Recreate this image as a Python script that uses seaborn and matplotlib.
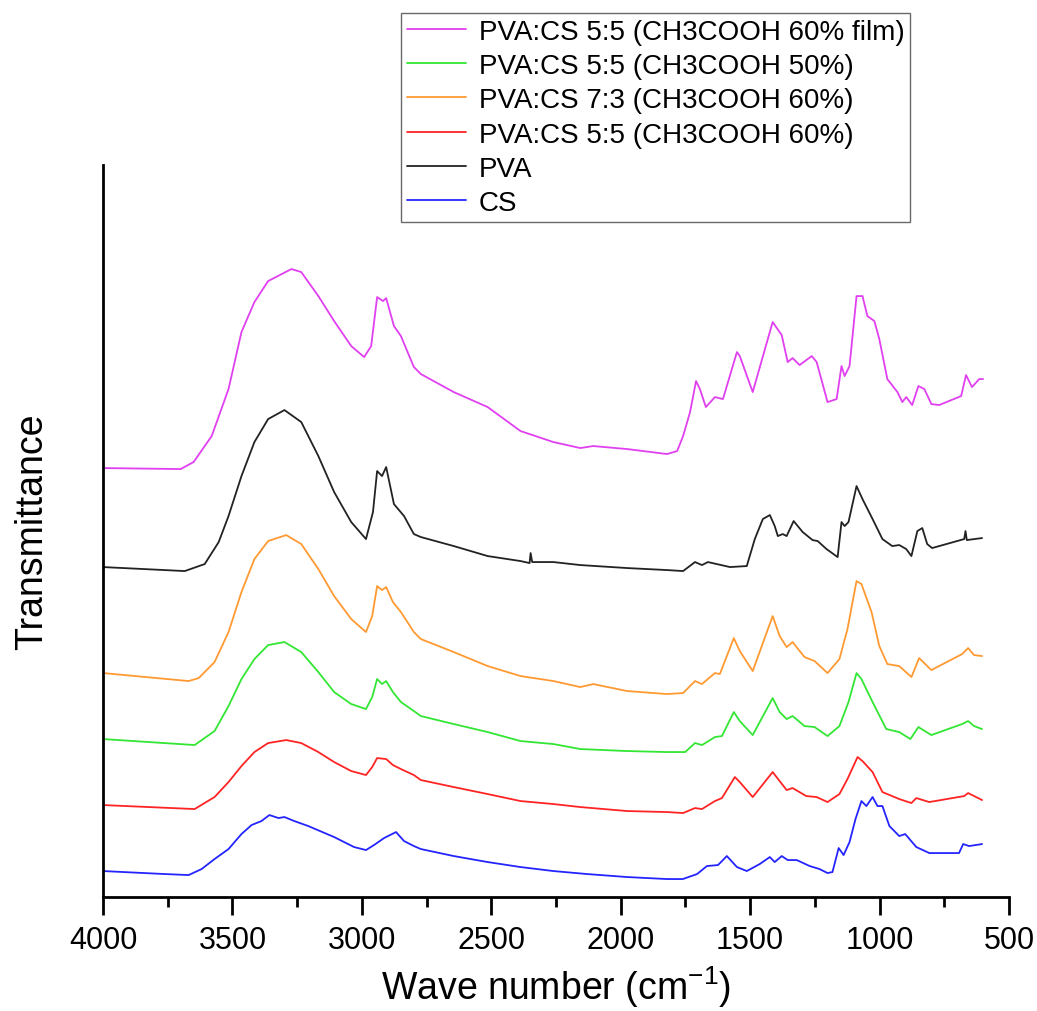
import matplotlib
matplotlib.use("Agg")
import matplotlib.pyplot as plt
import numpy as np
import pandas as pd
import seaborn as sns
from matplotlib.ticker import MultipleLocator

# --------------------------------------------------------------------------- #
#   FTIR spectra (wave number, transmittance in arbitrary offset units)        #
# --------------------------------------------------------------------------- #
SAMPLE_NAMES = [
    "PVA:CS 5:5 (CH3COOH 60% film)",
    "PVA:CS 5:5 (CH3COOH 50%)",
    "PVA:CS 7:3 (CH3COOH 60%)",
    "PVA:CS 5:5 (CH3COOH 60%)",
    "PVA",
    "CS",
]
COLORS = ["#E040F0", "#33E633", "#FF9A33", "#FF2424", "#222222", "#2424FF"]

FILM_55_60 = [
    (4000, 429), (3700, 428), (3650, 435), (3580, 461), (3515, 508), (3465, 565),
    (3415, 595), (3362, 616), (3272, 628), (3234, 625), (3168, 601), (3107, 576),
    (3041, 551), (2991, 540), (2964, 551), (2941, 600), (2918, 596), (2906, 599),
    (2876, 571), (2849, 561), (2799, 530), (2772, 523), (2645, 505), (2514, 490),
    (2387, 466), (2260, 455), (2156, 449), (2106, 451), (1975, 448), (1821, 443),
    (1782, 446), (1759, 461), (1732, 485), (1709, 516), (1694, 508), (1671, 490),
    (1636, 500), (1605, 498), (1551, 545), (1540, 541), (1490, 505), (1413, 575),
    (1378, 562), (1355, 535), (1336, 539), (1309, 532), (1262, 541), (1243, 535),
    (1201, 495), (1166, 498), (1147, 531), (1135, 521), (1116, 531), (1089, 601),
    (1066, 601), (1047, 581), (1020, 576), (1001, 558), (970, 518), (931, 505),
    (912, 495), (897, 500), (874, 492), (850, 511), (827, 508), (800, 493),
    (770, 492), (685, 501), (666, 522), (643, 510), (615, 518), (600, 518),
]
PVA_CS_55_50 = [
    (4000, 158), (3646, 152), (3569, 166), (3515, 191), (3465, 218), (3415, 238),
    (3362, 252), (3299, 255), (3234, 245), (3168, 225), (3107, 205), (3041, 193),
    (2984, 188), (2960, 200), (2941, 218), (2922, 213), (2906, 216), (2880, 205),
    (2849, 195), (2799, 186), (2772, 181), (2645, 173), (2514, 165), (2387, 156),
    (2260, 153), (2156, 148), (1975, 146), (1821, 145), (1751, 145), (1713, 154),
    (1686, 152), (1636, 160), (1609, 161), (1563, 185), (1540, 176), (1490, 162),
    (1413, 199), (1386, 185), (1359, 178), (1336, 181), (1290, 171), (1251, 170),
    (1201, 161), (1155, 171), (1120, 195), (1089, 224), (1070, 218), (1027, 195),
    (974, 168), (924, 165), (881, 158), (850, 170), (800, 162), (681, 173),
    (658, 176), (635, 171), (604, 168),
]
PVA_CS_73_60 = [
    (4000, 224), (3669, 216), (3630, 219), (3569, 235), (3515, 265), (3465, 305),
    (3415, 338), (3362, 356), (3292, 362), (3234, 353), (3168, 328), (3107, 301),
    (3041, 278), (2984, 265), (2960, 281), (2941, 311), (2922, 307), (2906, 310),
    (2880, 295), (2849, 285), (2799, 265), (2772, 258), (2645, 245), (2514, 231),
    (2387, 221), (2260, 216), (2156, 210), (2106, 213), (1975, 206), (1821, 203),
    (1759, 204), (1713, 216), (1686, 213), (1636, 224), (1617, 223), (1563, 259),
    (1540, 246), (1490, 226), (1413, 281), (1386, 261), (1359, 250), (1336, 255),
    (1290, 240), (1251, 236), (1201, 224), (1155, 238), (1124, 268), (1089, 316),
    (1070, 313), (1031, 285), (1001, 251), (970, 233), (924, 231), (877, 220),
    (847, 239), (800, 227), (681, 243), (658, 249), (635, 242), (604, 241),
]
PVA_CS_55_60 = [
    (4000, 92), (3646, 88), (3569, 100), (3515, 115), (3465, 131), (3415, 145),
    (3362, 154), (3292, 157), (3234, 154), (3168, 145), (3107, 135), (3041, 126),
    (2984, 122), (2960, 130), (2941, 139), (2906, 138), (2880, 132), (2849, 128),
    (2799, 122), (2772, 117), (2645, 110), (2514, 103), (2387, 96), (2260, 93),
    (2156, 90), (1975, 86), (1821, 85), (1759, 84), (1713, 89), (1686, 88),
    (1636, 96), (1609, 99), (1559, 120), (1540, 115), (1490, 100), (1413, 125),
    (1386, 116), (1359, 107), (1336, 109), (1283, 101), (1243, 100), (1201, 95),
    (1155, 103), (1124, 118), (1085, 140), (1066, 136), (1027, 125), (989, 105),
    (924, 98), (877, 94), (858, 99), (808, 95), (673, 101), (658, 104), (604, 97),
]
PVA = [
    (4000, 330), (3684, 326), (3607, 333), (3553, 355), (3515, 381), (3465, 421),
    (3415, 455), (3362, 478), (3299, 487), (3234, 475), (3168, 441), (3107, 405),
    (3041, 375), (2984, 358), (2957, 385), (2941, 426), (2922, 421), (2906, 430),
    (2876, 393), (2837, 381), (2799, 363), (2772, 360), (2645, 351), (2514, 341),
    (2387, 336), (2352, 334), (2348, 344), (2342, 335), (2260, 335), (2156, 332),
    (1975, 329), (1821, 327), (1759, 326), (1713, 335), (1686, 332), (1663, 335),
    (1578, 330), (1513, 331), (1482, 358), (1451, 378), (1424, 382), (1405, 371),
    (1393, 361), (1374, 363), (1359, 361), (1332, 376), (1297, 365), (1259, 357),
    (1239, 356), (1205, 348), (1162, 340), (1147, 375), (1135, 371), (1120, 375),
    (1089, 411), (1066, 398), (1027, 378), (989, 358), (951, 351), (924, 352),
    (897, 348), (877, 341), (854, 366), (835, 369), (816, 353), (797, 349),
    (673, 358), (668, 366), (663, 357), (604, 359),
]
CS = [
    (4000, 26), (3761, 23), (3669, 22), (3619, 28), (3569, 38), (3515, 48),
    (3465, 63), (3426, 72), (3388, 76), (3357, 82), (3322, 79), (3299, 80),
    (3261, 76), (3207, 71), (3107, 60), (3030, 50), (2984, 47), (2953, 52),
    (2914, 59), (2868, 65), (2837, 56), (2799, 51), (2772, 48), (2645, 41),
    (2514, 35), (2387, 30), (2260, 26), (2130, 23), (1975, 20), (1821, 18),
    (1760, 18), (1705, 23), (1667, 31), (1624, 32), (1590, 41), (1551, 30),
    (1513, 26), (1463, 33), (1424, 40), (1405, 35), (1378, 41), (1355, 37),
    (1320, 37), (1270, 31), (1232, 28), (1201, 24), (1182, 25), (1158, 49),
    (1139, 42), (1116, 55), (1093, 78), (1070, 96), (1051, 91), (1027, 100),
    (1008, 91), (989, 91), (962, 71), (924, 61), (901, 63), (858, 50),
    (808, 44), (693, 44), (677, 53), (654, 51), (604, 53),
]
SPECTRA = [FILM_55_60, PVA_CS_55_50, PVA_CS_73_60, PVA_CS_55_60, PVA, CS]

# --------------------------------------------------------------------------- #
#                               PLOT                                           #
# --------------------------------------------------------------------------- #
rows = []
for name, spec in zip(SAMPLE_NAMES, SPECTRA):
    for wn, t in spec:
        rows.append({"wn": wn, "T": t, "sample": name})
df = pd.DataFrame(rows)

sns.set_style("ticks")
plt.rcParams["font.family"] = ["Liberation Sans", "DejaVu Sans"]
plt.rcParams["mathtext.fontset"] = "custom"
plt.rcParams["mathtext.rm"] = "Liberation Sans"
plt.rcParams["mathtext.it"] = "Liberation Sans:italic"
plt.rcParams["text.color"] = "black"
plt.rcParams["axes.labelcolor"] = "black"

fig = plt.figure(figsize=(10.37, 10.12), dpi=100)
ax = fig.add_axes([0.0993, 0.1126, 0.8737, 0.7233])

sns.lineplot(
    data=df, x="wn", y="T", hue="sample", hue_order=SAMPLE_NAMES,
    palette=COLORS, estimator=None, sort=False, linewidth=1.3, ax=ax,
)

ax.set_xlim(4000, 500)
ax.set_ylim(0, 732)
ax.xaxis.set_major_locator(MultipleLocator(500))
ax.xaxis.set_minor_locator(MultipleLocator(250))
ax.tick_params(axis="x", which="major", direction="out", length=13, width=2,
               labelsize=22, pad=7, colors="black")
ax.tick_params(axis="x", which="minor", direction="out", length=7, width=2,
               colors="black")
ax.set_yticks([])

for side in ["top", "right"]:
    ax.spines[side].set_visible(False)
for side in ["left", "bottom"]:
    ax.spines[side].set_linewidth(2)
    ax.spines[side].set_color("black")

ax.set_xlabel("Wave number (cm$^{-1}$)", fontsize=27, labelpad=6)
ax.set_ylabel("Transmittance", fontsize=27, labelpad=38)

handles, labels = ax.get_legend_handles_labels()
ax.get_legend().remove()
leg = fig.legend(
    handles, labels, loc="upper left", bbox_to_anchor=(0.3867, 0.9862),
    fontsize=20, frameon=True, fancybox=False, edgecolor="#444444",
    labelspacing=0.3, handlelength=2.15, handletextpad=0.45,
    borderpad=0.2, borderaxespad=0,
)
leg.get_frame().set_linewidth(1.0)

plt.savefig("out.png", dpi=100)
